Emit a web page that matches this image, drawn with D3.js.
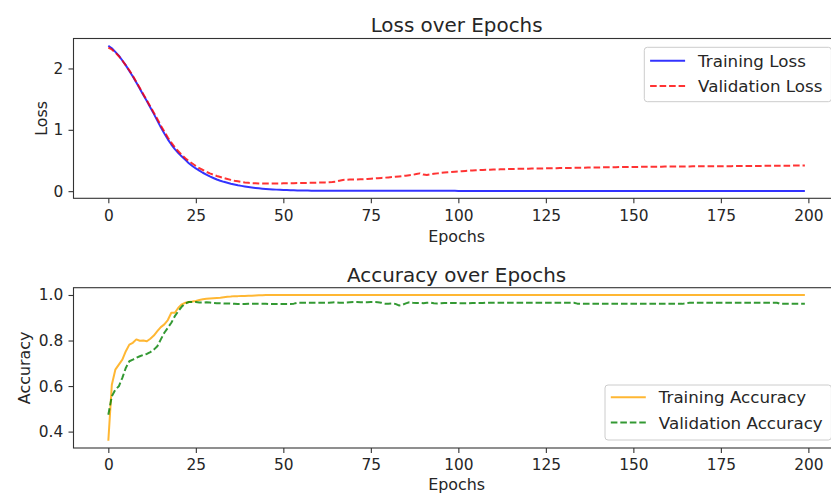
<!DOCTYPE html>
<html>
<head>
<meta charset="utf-8">
<script src="https://cdn.jsdelivr.net/npm/d3@7"></script>
<style>
body { margin: 0; background: #fff; }
svg { display: block; font-family: "DejaVu Sans", sans-serif; }
</style>
</head>
<body>
<svg width="831" height="496"></svg>
<script>
// values, one per epoch
var trainLoss = [
	2.37, 2.33, 2.27, 2.21, 2.13, 2.05, 1.96, 1.87, 1.77, 1.67,
	1.567, 1.47, 1.365, 1.26, 1.15, 1.04, 0.94, 0.845, 0.76, 0.685,
	0.62, 0.565, 0.51, 0.455, 0.41, 0.37, 0.335, 0.30, 0.27, 0.24,
	0.215, 0.19, 0.17, 0.152, 0.136, 0.121, 0.108, 0.096, 0.086, 0.077,
	0.068, 0.06, 0.053, 0.047, 0.041, 0.036, 0.032, 0.028, 0.025, 0.022,
	0.019, 0.017, 0.015, 0.013, 0.012, 0.011, 0.010, 0.009, 0.008, 0.008,
	0.007, 0.007, 0.007, 0.007, 0.007, 0.007, 0.007, 0.007, 0.007, 0.007,
	0.006, 0.006, 0.006, 0.006, 0.006, 0.006, 0.006, 0.006, 0.006, 0.006,
	0.005, 0.005, 0.005, 0.005, 0.005, 0.005, 0.005, 0.005, 0.005, 0.005,
	0.005, 0.005, 0.005, 0.005, 0.005, 0.005, 0.005, 0.005, 0.005, 0.005,
	0.004, 0.004, 0.004, 0.004, 0.004, 0.004, 0.004, 0.004, 0.004, 0.004,
	0.004, 0.004, 0.004, 0.004, 0.004, 0.004, 0.004, 0.004, 0.004, 0.004,
	0.004, 0.004, 0.004, 0.004, 0.004, 0.004, 0.004, 0.004, 0.004, 0.004,
	0.003, 0.003, 0.003, 0.003, 0.003, 0.003, 0.003, 0.003, 0.003, 0.003,
	0.003, 0.003, 0.003, 0.003, 0.003, 0.003, 0.003, 0.003, 0.003, 0.003,
	0.003, 0.003, 0.003, 0.003, 0.003, 0.003, 0.003, 0.003, 0.003, 0.003,
	0.003, 0.003, 0.003, 0.003, 0.003, 0.003, 0.003, 0.003, 0.003, 0.003,
	0.002, 0.002, 0.002, 0.002, 0.002, 0.002, 0.002, 0.002, 0.002, 0.002,
	0.002, 0.002, 0.002, 0.002, 0.002, 0.002, 0.002, 0.002, 0.002, 0.002,
	0.002, 0.002, 0.002, 0.002, 0.002, 0.002, 0.002, 0.002, 0.002, 0.002
];

var valLoss = [
	2.34, 2.31, 2.26, 2.20, 2.13, 2.05, 1.97, 1.88, 1.78, 1.68,
	1.58, 1.48, 1.38, 1.28, 1.175, 1.07, 0.97, 0.875, 0.79, 0.715,
	0.65, 0.59, 0.535, 0.49, 0.45, 0.41, 0.375, 0.345, 0.315, 0.29,
	0.268, 0.248, 0.23, 0.213, 0.198, 0.184, 0.171, 0.16, 0.15, 0.142,
	0.136, 0.131, 0.128, 0.126, 0.124, 0.123, 0.123, 0.124, 0.125, 0.126,
	0.127, 0.128, 0.129, 0.13, 0.131, 0.132, 0.134, 0.135, 0.136, 0.137,
	0.139, 0.141, 0.143, 0.146, 0.15, 0.156, 0.17, 0.182, 0.187, 0.189,
	0.19, 0.191, 0.193, 0.196, 0.2, 0.204, 0.208, 0.212, 0.216, 0.22,
	0.224, 0.229, 0.234, 0.24, 0.246, 0.252, 0.259, 0.267, 0.278, 0.29,
	0.27, 0.265, 0.275, 0.283, 0.29, 0.297, 0.303, 0.308, 0.313, 0.318,
	0.322, 0.326, 0.33, 0.334, 0.337, 0.34, 0.343, 0.346, 0.348, 0.35,
	0.352, 0.354, 0.356, 0.358, 0.36, 0.361, 0.363, 0.364, 0.365, 0.366,
	0.367, 0.368, 0.369, 0.37, 0.371, 0.372, 0.373, 0.374, 0.375, 0.376,
	0.377, 0.378, 0.379, 0.38, 0.381, 0.382, 0.383, 0.384, 0.385, 0.386,
	0.387, 0.388, 0.389, 0.39, 0.39, 0.391, 0.392, 0.393, 0.393, 0.394,
	0.395, 0.395, 0.396, 0.397, 0.397, 0.398, 0.398, 0.399, 0.399, 0.4,
	0.4, 0.401, 0.401, 0.402, 0.402, 0.403, 0.403, 0.404, 0.404, 0.405,
	0.405, 0.405, 0.406, 0.406, 0.407, 0.407, 0.408, 0.408, 0.408, 0.409,
	0.409, 0.41, 0.41, 0.41, 0.411, 0.411, 0.412, 0.412, 0.413, 0.413,
	0.414, 0.414, 0.415, 0.415, 0.416, 0.416, 0.417, 0.418, 0.418, 0.419
];

var trainAcc = [
	0.36, 0.606, 0.672, 0.694, 0.716, 0.753, 0.782, 0.79, 0.805, 0.799,
	0.8, 0.797, 0.808, 0.822, 0.841, 0.859, 0.871, 0.89, 0.922, 0.922,
	0.944, 0.959, 0.966, 0.969, 0.971, 0.974, 0.978, 0.981, 0.983, 0.985,
	0.986, 0.987, 0.988, 0.99, 0.992, 0.993, 0.995, 0.995, 0.996, 0.996,
	0.997, 0.997, 0.998, 0.999, 0.999, 1, 1, 1, 1, 1,
	1, 1, 1, 1, 1, 1, 1, 1, 1, 1,
	1, 1, 1, 1, 1, 1, 1, 1, 1, 1,
	1, 1, 1, 1, 1, 1, 1, 1, 1, 1,
	1, 1, 1, 1, 1, 1, 1, 1, 1, 1,
	1, 1, 1, 1, 1, 1, 1, 1, 1, 1,
	1, 1, 1, 1, 1, 1, 1, 1, 1, 1,
	1, 1, 1, 1, 1, 1, 1, 1, 1, 1,
	1, 1, 1, 1, 1, 1, 1, 1, 1, 1,
	1, 1, 1, 1, 1, 1, 1, 1, 1, 1,
	1, 1, 1, 1, 1, 1, 1, 1, 1, 1,
	1, 1, 1, 1, 1, 1, 1, 1, 1, 1,
	1, 1, 1, 1, 1, 1, 1, 1, 1, 1,
	1, 1, 1, 1, 1, 1, 1, 1, 1, 1,
	1, 1, 1, 1, 1, 1, 1, 1, 1, 1,
	1, 1, 1, 1, 1, 1, 1, 1, 1, 1
];

var valAcc = [
	0.474, 0.555, 0.584, 0.599, 0.636, 0.68, 0.709, 0.716, 0.724, 0.731,
	0.737, 0.741, 0.749, 0.76, 0.775, 0.805, 0.834, 0.856, 0.878, 0.907,
	0.929, 0.949, 0.963, 0.969, 0.969, 0.969, 0.967, 0.967, 0.968, 0.967,
	0.965, 0.964, 0.964, 0.963, 0.963, 0.962, 0.961, 0.96, 0.96, 0.96,
	0.961, 0.961, 0.961, 0.961, 0.961, 0.961, 0.96, 0.96, 0.96, 0.96,
	0.96, 0.96, 0.96, 0.962, 0.966, 0.966, 0.966, 0.966, 0.966, 0.966,
	0.966, 0.966, 0.966, 0.966, 0.967, 0.968, 0.966, 0.966, 0.967, 0.968,
	0.969, 0.969, 0.968, 0.968, 0.968, 0.969, 0.969, 0.968, 0.966, 0.962,
	0.962, 0.963, 0.961, 0.954, 0.957, 0.963, 0.968, 0.966, 0.965, 0.965,
	0.964, 0.966, 0.967, 0.964, 0.963, 0.964, 0.965, 0.965, 0.965, 0.965,
	0.964, 0.964, 0.964, 0.964, 0.965, 0.965, 0.965, 0.965, 0.966, 0.966,
	0.966, 0.966, 0.966, 0.966, 0.966, 0.966, 0.966, 0.966, 0.966, 0.966,
	0.966, 0.966, 0.966, 0.966, 0.966, 0.966, 0.966, 0.966, 0.966, 0.966,
	0.966, 0.966, 0.966, 0.966, 0.962, 0.961, 0.961, 0.961, 0.961, 0.961,
	0.961, 0.961, 0.961, 0.961, 0.961, 0.961, 0.961, 0.961, 0.961, 0.961,
	0.961, 0.961, 0.961, 0.961, 0.961, 0.961, 0.961, 0.961, 0.961, 0.961,
	0.961, 0.961, 0.961, 0.961, 0.961, 0.963, 0.966, 0.966, 0.966, 0.966,
	0.966, 0.966, 0.966, 0.966, 0.966, 0.966, 0.966, 0.966, 0.966, 0.966,
	0.966, 0.966, 0.966, 0.966, 0.966, 0.966, 0.966, 0.966, 0.966, 0.966,
	0.966, 0.966, 0.961, 0.961, 0.961, 0.961, 0.961, 0.961, 0.961, 0.961
];

// tick labels
var epochTicks = [0, 25, 50, 75, 100, 125, 150, 175, 200];
var lossTicks = [0, 1, 2];
var accTicks = [0.4, 0.6, 0.8, 1.0];

var svg = d3.select("svg");
var textColor = "#262626";

function buildPanel(p) {
	var g = svg.append("g");
	var n = p.series[0].values.length;

	// matplotlib style 5% margins
	var xpad = 0.05 * (n - 1);
	var x = d3.scaleLinear().domain([-xpad, n - 1 + xpad]).range([73.5, 839.7]);

	var ext = d3.extent(p.series[0].values.concat(p.series[1].values));
	var ypad = 0.05 * (ext[1] - ext[0]);
	var y = d3.scaleLinear().domain([ext[0] - ypad, ext[1] + ypad]).range([p.bottom, p.top]);

	// lines
	p.series.forEach(function(s) {
		var line = d3.line()
			.x(function(d, i) { return x(i); })
			.y(function(d) { return y(d); });
		g.append("path")
			.datum(s.values)
			.attr("fill", "none")
			.attr("stroke", s.color)
			.attr("stroke-opacity", 0.8)
			.attr("stroke-width", 2)
			.attr("stroke-linejoin", "round")
			.attr("stroke-dasharray", s.dash ? "6.6,2.9" : null)
			.attr("d", line);
	});

	// axes
	var xAxis = g.append("g")
		.attr("transform", "translate(0," + p.bottom + ")")
		.call(d3.axisBottom(x).tickValues(epochTicks).tickSize(5).tickPadding(6.4).tickFormat(d3.format("d")));
	var yAxis = g.append("g")
		.attr("transform", "translate(73.5,0)")
		.call(d3.axisLeft(y).tickValues(p.ticks).tickSize(5).tickPadding(5.2).tickFormat(p.format));

	[xAxis, yAxis].forEach(function(a) {
		a.select(".domain").remove();
		a.selectAll(".tick line").attr("stroke", "#333").attr("stroke-width", 1.1);
		a.selectAll(".tick text")
			.attr("fill", textColor)
			.style("font-family", "DejaVu Sans")
			.style("font-size", "15.4px");
	});

	// spines
	g.append("rect")
		.attr("x", 73.5)
		.attr("y", p.top)
		.attr("width", 839.7 - 73.5)
		.attr("height", p.bottom - p.top)
		.attr("fill", "none")
		.attr("stroke", "#333")
		.attr("stroke-width", 1.1);

	// title and labels
	g.append("text")
		.attr("x", 456.6)
		.attr("y", p.titleY)
		.attr("text-anchor", "middle")
		.attr("fill", textColor)
		.style("font-size", "19.9px")
		.text(p.title);

	g.append("text")
		.attr("x", 456.6)
		.attr("y", p.xlabelY)
		.attr("text-anchor", "middle")
		.attr("fill", textColor)
		.style("font-size", "15.9px")
		.text("Epochs");

	g.append("text")
		.attr("transform", "translate(" + p.ylabelX + "," + ((p.top + p.bottom) / 2) + ") rotate(-90)")
		.attr("text-anchor", "middle")
		.attr("fill", textColor)
		.style("font-size", "15.9px")
		.text(p.ylabel);

	// legend
	var lg = p.legend;
	g.append("rect")
		.attr("x", lg.x)
		.attr("y", lg.y)
		.attr("width", 831.4 - lg.x)
		.attr("height", lg.h)
		.attr("rx", 3)
		.attr("fill", "#fff")
		.attr("fill-opacity", 0.8)
		.attr("stroke", "#ccc")
		.attr("stroke-width", 1);

	p.series.forEach(function(s, i) {
		var cy = lg.row0 + i * 25.3;
		g.append("line")
			.attr("x1", lg.x + 5.8)
			.attr("x2", lg.x + 40.8)
			.attr("y1", cy)
			.attr("y2", cy)
			.attr("stroke", s.color)
			.attr("stroke-opacity", 0.8)
			.attr("stroke-width", 2)
			.attr("stroke-dasharray", s.dash ? "6.6,2.9" : null);
		g.append("text")
			.attr("x", lg.x + 53.8)
			.attr("y", cy + 6)
			.attr("fill", textColor)
			.style("font-size", "16.7px")
			.text(s.name);
	});
}

buildPanel({
	title: "Loss over Epochs",
	ylabel: "Loss",
	top: 38.5,
	bottom: 198.3,
	titleY: 31.7,
	xlabelY: 241.5,
	ylabelX: 46.5,
	ticks: lossTicks,
	format: d3.format("d"),
	legend: { x: 644.3, y: 47.3, h: 54.4, row0: 60.7 },
	series: [
		{ name: "Training Loss", values: trainLoss, color: "#0000ff", dash: false },
		{ name: "Validation Loss", values: valLoss, color: "#ff0000", dash: true }
	]
});

buildPanel({
	title: "Accuracy over Epochs",
	ylabel: "Accuracy",
	top: 287.7,
	bottom: 448,
	titleY: 281.7,
	xlabelY: 490.3,
	ylabelX: 29.5,
	ticks: accTicks,
	format: d3.format(".1f"),
	legend: { x: 605, y: 385, h: 55, row0: 397.3 },
	series: [
		{ name: "Training Accuracy", values: trainAcc, color: "#ffa500", dash: false },
		{ name: "Validation Accuracy", values: valAcc, color: "#008000", dash: true }
	]
});
</script>
</body>
</html>
